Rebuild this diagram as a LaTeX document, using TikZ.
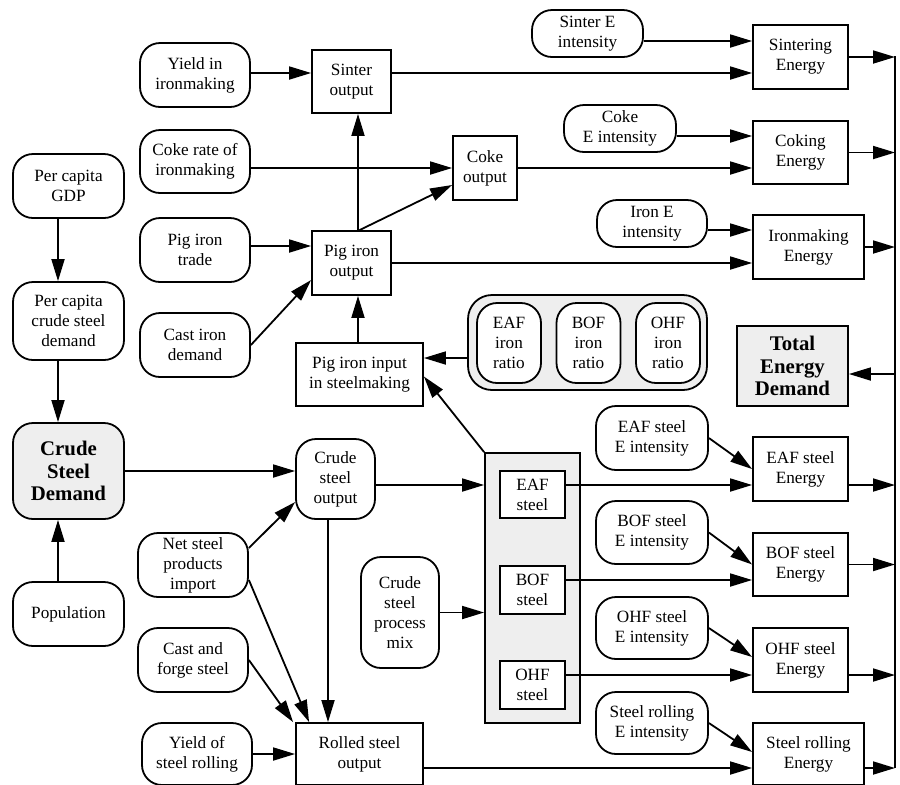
\documentclass[tikz,border=0pt]{standalone}
\usepackage{fontspec}
\setmainfont{Liberation Serif}
\usetikzlibrary{arrows.meta}
\tikzset{
  every node/.style={font=\fontsize{8.6}{10}\selectfont, align=center, inner sep=1pt},
  sz/.style 2 args={minimum width=#1*0.5pt, minimum height=#2*0.5pt},
  pill/.style={draw, rounded corners=10pt, fill=white},
  box/.style={draw, fill=white},
  shade/.style={fill=gray!13},
  heavy/.style={font=\fontsize{10.4}{11.3}\selectfont\bfseries},
  arr/.style={-{Triangle[length=11pt,width=6.5pt]}}
}
\begin{document}
\begin{tikzpicture}[x=0.5pt,y=-0.5pt,line width=0.9pt]
\useasboundingbox (0,0) rectangle (900,784);

% demand side
\node[pill,sz={111}{64}] (gdp) at (68.5,186) {Per capita\\GDP};
\node[pill,sz={111}{78}] (pcd) at (68.5,321) {Per capita\\crude steel\\demand};
\node[pill,shade,sz={111}{96},heavy] (csd) at (68.5,471) {Crude\\Steel\\Demand};
\node[pill,sz={111}{64}] (pop) at (68.5,614) {Population};

% exogenous inputs
\node[pill,sz={110}{64}] (yim) at (195,75) {Yield in\\ironmaking};
\node[pill,sz={110}{63}] (cri) at (195,161.5) {Coke rate of\\ironmaking};
\node[pill,sz={110}{64}] (pit) at (195,250) {Pig iron\\trade};
\node[pill,sz={110}{64}] (cid) at (195,345) {Cast iron\\demand};
\node[pill,sz={110}{64}] (nsp) at (193,565) {Net steel\\products\\import};
\node[pill,sz={110}{64}] (cfs) at (193,660) {Cast and\\forge steel};
\node[pill,sz={110}{62}] (ysr) at (197,754) {Yield of\\steel rolling};

% production chain
\node[box,sz={79}{63}] (sint) at (351.5,81.5) {Sinter\\output};
\node[box,sz={79}{64}] (pio) at (351.5,263) {Pig iron\\output};
\node[box,sz={64}{64}] (cko) at (485,168) {Coke\\output};
\node[box,sz={127}{63}] (pii) at (359.5,374.5) {Pig iron input\\in steelmaking};
\node[pill,sz={79}{80}] (cso) at (335.5,479) {Crude\\steel\\output};
\node[box,sz={127}{62}] (rso) at (359.5,754) {Rolled steel\\output};
\node[pill,sz={78}{111}] (cpm) at (400,612.5) {Crude\\steel\\process\\mix};

% iron ratio group
\node[draw,shade,rounded corners=12pt,sz={239}{95}] (rgrp) at (587.5,342.5) {};
\node[pill,sz={64}{80}] (eafr) at (509,343) {EAF\\iron\\ratio};
\node[pill,sz={64}{80}] (bofr) at (588.5,343) {BOF\\iron\\ratio};
\node[pill,sz={64}{80}] (ohfr) at (668,343) {OHF\\iron\\ratio};

% steel process group
\node[draw,shade,sz={95}{270}] (sgrp) at (532.5,588) {};
\node[box,sz={65}{47}] (eafs) at (532.5,494.5) {EAF\\steel};
\node[box,sz={65}{48}] (bofs) at (532.5,590) {BOF\\steel};
\node[box,sz={65}{48}] (ohfs) at (532.5,685) {OHF\\steel};

% energy intensities
\node[pill,sz={111}{47}] (sei) at (587.5,33.5) {Sinter E\\intensity};
\node[pill,sz={112}{47}] (cei) at (620,128.5) {Coke\\E intensity};
\node[pill,sz={110}{47}] (iei) at (652,223.5) {Iron E\\intensity};
\node[pill,sz={112}{64}] (eei) at (652,438) {EAF steel\\E intensity};
\node[pill,sz={112}{63}] (bei) at (652,532.5) {BOF steel\\E intensity};
\node[pill,sz={112}{62}] (oei) at (652,628) {OHF steel\\E intensity};
\node[pill,sz={112}{62}] (rei) at (652,723) {Steel rolling\\E intensity};

% energy blocks
\node[box,sz={95}{64}] (sen) at (800.5,57) {Sintering\\Energy};
\node[box,sz={95}{63}] (cen) at (800.5,152.5) {Coking\\Energy};
\node[box,sz={111}{64}] (ien) at (808.5,247) {Ironmaking\\Energy};
\node[box,shade,sz={111}{80},heavy] (ted) at (792.5,366) {Total\\Energy\\Demand};
\node[box,sz={95}{64}] (een) at (800.5,469) {EAF steel\\Energy};
\node[box,sz={95}{63}] (ben) at (800.5,564.5) {BOF steel\\Energy};
\node[box,sz={95}{64}] (oen) at (800.5,660) {OHF steel\\Energy};
\node[box,sz={111}{62}] (ren) at (808.5,754) {Steel rolling\\Energy};

% collecting bus
\coordinate (busT) at (895,56);
\coordinate (busB) at (895,768);
\draw (busT) -- (busB);

% demand arrows
\draw[arr] ([xshift=-5.25pt]gdp.south) -- ([xshift=-5.25pt]pcd.north);
\draw[arr] ([xshift=-5.25pt]pcd.south) -- ([xshift=-5.25pt]csd.north);
\draw[arr] ([xshift=-5.25pt]pop.north) -- ([xshift=-5.25pt]csd.south);
\draw[arr] (csd.east) -- (csd.east -| cso.west);

% ironmaking chain
\draw[arr] (yim.east |- 0,73) -- (sint.west |- 0,73);
\draw[arr] (sint.east |- 0,73) -- (sen.west |- 0,73);
\draw[arr] (sei.east |- 0,41) -- (sen.west |- 0,41);
\draw[arr] (cri.east |- cko.west) -- (cko.west);
\draw[arr] ([xshift=4pt]pio.north) -- ([yshift=-8.5pt]cko.west);
\draw[arr] ([xshift=3.25pt]pio.north) -- ([xshift=3.25pt]sint.south);
\draw[arr] (cko.east) -- (cko.east -| cen.west);
\draw[arr] (cei.east |- 0,136) -- (cen.west |- 0,136);
\draw[arr] (pit.east |- 0,246) -- (pio.west |- 0,246);
\draw[arr] (cid.east) -- ([yshift=-8.5pt]pio.west);
\draw[arr] (pio.east) -- (pio.east -| ien.west);
\draw[arr] (iei.east |- 0,230) -- (ien.west |- 0,230);
\draw[arr] ([xshift=-0.75pt]pii.north) -- ([xshift=-0.75pt]pii.north |- pio.south);
\draw[arr] (rgrp.west |- 0,358) -- (pii.east |- 0,358);
\draw[arr] (sgrp.north west) -- ([yshift=-1pt]pii.east);

% steelmaking chain
\draw[arr] ([yshift=-3pt]cso.east) -- ([yshift=-3pt]cso.east -| sgrp.west);
\draw[arr] (cpm.east) -- (cpm.east -| sgrp.west);
\draw[arr] (eafs.east |- 0,485) -- (een.west |- 0,485);
\draw[arr] (eei.east) -- (een.west);
\draw[arr] (bofs.east |- 0,580) -- (ben.west |- 0,580);
\draw[arr] (bei.east) -- (ben.west);
\draw[arr] (ohfs.east |- 0,675) -- (oen.west |- 0,675);
\draw[arr] (oei.east) -- ([yshift=1.5pt]oen.west);
\draw[arr] (rei.east) -- ([yshift=1pt]ren.west);

% rolling chain
\draw[arr] ([xshift=-3.75pt]cso.south) -- ([xshift=-3.75pt]cso.south |- rso.north);
\draw[arr] ([yshift=8.5pt]nsp.east) -- ([yshift=-11.5pt]cso.west);
\draw[arr] ([yshift=-7.5pt]nsp.east) -- ([xshift=7pt]rso.north west);
\draw[arr] (cfs.east) -- ([xshift=-1pt]rso.north west);
\draw[arr] (ysr.east) -- (rso.west);
\draw[arr] (rso.east |- 0,768) -- (ren.west |- 0,768);

% energies to bus and total
\draw[arr] (sen.east) -- (sen.east -| busT);
\draw[arr] (cen.east) -- (cen.east -| busT);
\draw[arr] (ien.east) -- (ien.east -| busT);
\draw[arr] (een.east |- 0,485) -- (busT |- 0,485);
\draw[arr] (ben.east) -- (ben.east -| busT);
\draw[arr] (oen.east |- 0,675) -- (busT |- 0,675);
\draw[arr] (ren.east |- 0,768) -- (busB);
\draw[arr] (busT |- 0,374) -- (ted.east |- 0,374);
\end{tikzpicture}
\end{document}
